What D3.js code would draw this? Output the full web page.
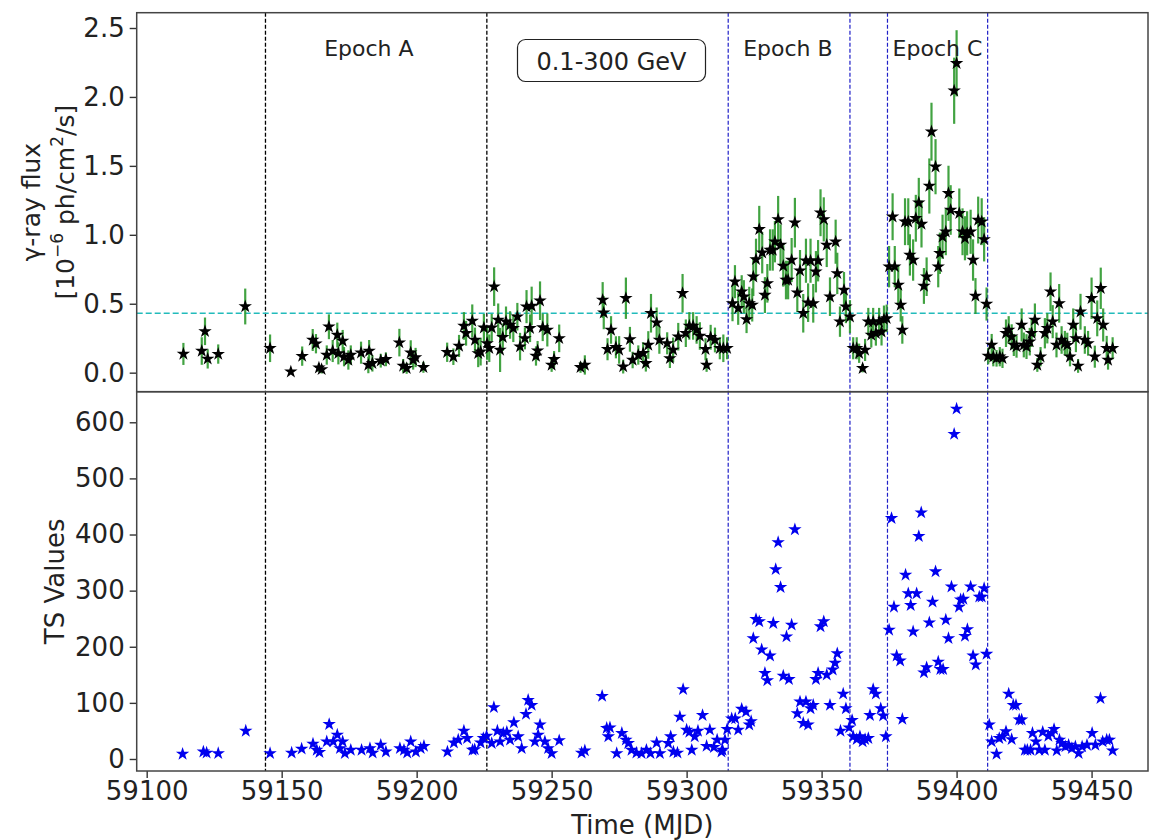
<!DOCTYPE html>
<html>
<head>
<meta charset="utf-8">
<script src="https://cdn.jsdelivr.net/npm/d3@7"></script>
<style>
  body { margin: 0; background: #fff; }
  text { font-family: "DejaVu Sans", sans-serif; fill: #222; }
</style>
</head>
<body>
<div id="chart"></div>
<script>
// flux light curve (top panel)
var fluxMjd = [59113.6, 59120.4, 59121.6, 59122.6, 59126.5, 59136.5,
  59145.7, 59153.4, 59157.6, 59161.5, 59162.7, 59163.8, 59164.8, 59166.7, 59167.5, 59168.9, 59170.6, 59171.0, 59172.6, 59173.1,
  59174.7, 59175.6, 59179.4, 59182.1, 59182.4, 59183.6, 59186.7, 59188.6, 59193.6, 59195.0, 59196.3, 59197.8, 59198.7, 59199.6,
  59202.5, 59211.3, 59213.6, 59215.7, 59217.5, 59218.3, 59220.6, 59221.6, 59222.8, 59223.7, 59224.9,
  59226.1, 59226.9, 59227.8, 59228.7, 59230.2, 59230.9, 59231.9, 59233.1, 59234.6, 59235.8, 59237.3, 59238.3, 59240.1, 59240.7,
  59242.0, 59242.6, 59244.2, 59244.8, 59245.7, 59246.7, 59248.4, 59250.0, 59250.9, 59252.8, 59260.7, 59262.3,
  59268.9, 59269.3, 59270.7, 59272.0, 59273.8, 59275.0, 59276.5, 59277.5, 59279.0, 59280.0, 59282.1, 59283.9, 59284.9, 59285.8,
  59286.8, 59288.9, 59289.9, 59292.8, 59293.8, 59295.0, 59296.9, 59298.5, 59299.7, 59301.0, 59302.4, 59303.7, 59304.9, 59307.0,
  59307.4, 59308.9, 59310.5, 59312.3, 59313.6, 59315.0,
  59317.0, 59317.9, 59319.1, 59320.4, 59321.2, 59322.2, 59323.2, 59324.3, 59324.7, 59325.7, 59326.9, 59328.0, 59329.0, 59329.9,
  59330.9, 59331.9, 59332.7, 59333.9, 59334.8, 59335.8, 59336.8, 59337.6, 59338.9, 59340.1, 59341.0, 59342.0, 59343.2, 59344.2,
  59345.0, 59345.9, 59346.9, 59347.9, 59348.7, 59349.6, 59350.8, 59351.9, 59353.1, 59355.2, 59355.8, 59356.8, 59358.3, 59359.0,
  59360.5, 59361.7, 59363.0, 59363.9, 59365.2, 59366.1, 59367.3, 59368.4, 59369.1, 59370.1, 59371.3, 59372.2, 59373.1, 59374.1,
  59375.0, 59376.3, 59377.1, 59378.4, 59379.3, 59379.9, 59380.9, 59382.1, 59382.7, 59383.9, 59384.9, 59386.0, 59387.0, 59387.9,
  59388.9, 59389.9, 59390.7, 59392.2, 59393.2, 59393.8, 59394.8, 59396.0, 59397.0, 59397.8, 59399.1, 59400.0, 59401.0, 59402.2,
  59403.1, 59403.9, 59405.2, 59406.1, 59407.0, 59408.0, 59409.3, 59410.2, 59411.1,
  59411.7, 59413.0, 59413.6, 59414.8, 59416.0, 59417.0, 59418.3, 59419.3, 59420.4, 59421.2, 59422.2, 59424.1, 59424.9, 59425.9,
  59427.1, 59427.8, 59429.0, 59429.9, 59431.1, 59432.7, 59433.6, 59434.8, 59435.6, 59437.0, 59438.0, 59438.9, 59440.1, 59441.0,
  59442.0, 59443.2, 59444.2, 59445.0, 59445.9, 59447.5, 59448.7, 59450.0, 59451.2, 59452.1, 59453.4, 59454.3, 59455.6, 59456.1,
  59457.8];
var flux = [0.136, 0.157, 0.30, 0.10, 0.135, 0.48,
  0.177, 0.007, 0.12, 0.237, 0.21, 0.036, 0.024, 0.128, 0.333, 0.157, 0.273, 0.14, 0.23, 0.116,
  0.092, 0.128, 0.145, 0.056, 0.157, 0.068, 0.087, 0.097, 0.218, 0.049, 0.032, 0.145, 0.092, 0.11,
  0.039, 0.148, 0.116, 0.194, 0.339, 0.286, 0.375, 0.237, 0.14, 0.152, 0.326,
  0.213, 0.177, 0.326, 0.624, 0.382, 0.165, 0.257, 0.37, 0.346, 0.322, 0.406, 0.189, 0.249, 0.479,
  0.322, 0.484, 0.121, 0.16, 0.522, 0.329, 0.31, 0.056, 0.097, 0.249, 0.039, 0.056,
  0.527, 0.435, 0.17, 0.31, 0.184, 0.165, 0.044, 0.54, 0.242, 0.092, 0.128, 0.141, 0.068, 0.201,
  0.431, 0.363, 0.237, 0.213, 0.104, 0.165, 0.261, 0.576, 0.286, 0.339, 0.339, 0.31, 0.266, 0.17,
  0.056, 0.257, 0.237, 0.177, 0.177, 0.177,
  0.503, 0.66, 0.467, 0.587, 0.551, 0.387, 0.503, 0.491, 0.696, 0.822, 1.04, 0.87, 0.563, 0.648,
  0.89, 0.89, 0.95, 1.112, 0.926, 0.774, 0.672, 0.672, 0.817, 1.088, 0.58, 0.74, 0.431, 0.812,
  0.508, 0.812, 0.503, 0.732, 0.812, 1.16, 1.112, 0.926, 0.551, 0.95, 0.72, 0.37, 0.6, 0.479,
  0.406, 0.177, 0.177, 0.141, 0.032, 0.165, 0.37, 0.273, 0.37, 0.286, 0.37, 0.297, 0.387, 0.394,
  0.769, 1.131, 0.769, 0.636, 0.491, 0.31, 1.095, 1.095, 0.854, 0.817, 1.12, 1.233, 1.078, 0.629,
  0.696, 1.354, 1.748, 1.494, 0.769, 0.866, 0.986, 1.022, 1.301, 1.18, 2.045, 2.244, 1.156, 1.022,
  0.975, 1.011, 1.022, 0.817, 0.556, 1.107, 1.095, 0.967, 0.498,
  0.121, 0.201, 0.116, 0.104, 0.116, 0.104, 0.286, 0.31, 0.261, 0.201, 0.189, 0.346, 0.201, 0.189,
  0.225, 0.286, 0.382, 0.056, 0.116, 0.286, 0.322, 0.587, 0.37, 0.201, 0.503, 0.237, 0.213, 0.2,
  0.116, 0.346, 0.249, 0.049, 0.442, 0.237, 0.213, 0.54, 0.116, 0.394, 0.612, 0.346, 0.177, 0.092,
  0.177];
var fluxErr = [0.08, 0.10, 0.10, 0.07, 0.07, 0.13,
  0.10, 0, 0.07, 0.08, 0.07, 0.03, 0.03, 0.07, 0.09, 0.08, 0.09, 0.08, 0.08, 0.07,
  0.07, 0.07, 0.08, 0.06, 0.08, 0.06, 0.05, 0.05, 0.10, 0.05, 0.04, 0.09, 0.07, 0.07,
  0.04, 0.07, 0.06, 0.08, 0.10, 0.09, 0.12, 0.09, 0.10, 0.10, 0.10,
  0.12, 0.10, 0.10, 0.14, 0.12, 0.16, 0.10, 0.11, 0.10, 0.10, 0.10, 0.10, 0.08, 0.12,
  0.10, 0.14, 0.07, 0.07, 0.14, 0.10, 0.12, 0.05, 0.06, 0.10, 0.04, 0.07,
  0.13, 0.12, 0.08, 0.10, 0.08, 0.10, 0.05, 0.15, 0.09, 0.06, 0.07, 0.08, 0.06, 0.10,
  0.14, 0.11, 0.10, 0.08, 0.07, 0.09, 0.10, 0.14, 0.10, 0.10, 0.10, 0.10, 0.10, 0.08,
  0.05, 0.09, 0.09, 0.08, 0.10, 0.08,
  0.13, 0.12, 0.12, 0.12, 0.12, 0.10, 0.12, 0.12, 0.14, 0.15, 0.17, 0.15, 0.13, 0.14,
  0.15, 0.15, 0.15, 0.17, 0.15, 0.15, 0.14, 0.14, 0.16, 0.18, 0.14, 0.15, 0.14, 0.16,
  0.14, 0.16, 0.14, 0.15, 0.15, 0.17, 0.16, 0.16, 0.14, 0.16, 0.15, 0.11, 0.13, 0.12,
  0.12, 0.08, 0.08, 0.07, 0.03, 0.08, 0.10, 0.09, 0.10, 0.09, 0.10, 0.10, 0.10, 0.10,
  0.15, 0.17, 0.15, 0.14, 0.12, 0.10, 0.17, 0.17, 0.15, 0.15, 0.17, 0.18, 0.17, 0.13,
  0.14, 0.20, 0.21, 0.20, 0.15, 0.15, 0.16, 0.17, 0.20, 0.18, 0.24, 0.24, 0.18, 0.17,
  0.16, 0.16, 0.16, 0.15, 0.13, 0.17, 0.17, 0.16, 0.12,
  0.06, 0.08, 0.07, 0.06, 0.07, 0.07, 0.10, 0.10, 0.09, 0.08, 0.08, 0.12, 0.09, 0.09,
  0.10, 0.10, 0.12, 0.05, 0.07, 0.11, 0.11, 0.14, 0.12, 0.09, 0.14, 0.10, 0.09, 0.09,
  0.07, 0.12, 0.10, 0.05, 0.13, 0.10, 0.09, 0.15, 0.08, 0.13, 0.15, 0.12, 0.09, 0.07,
  0.08];

// TS values (bottom panel)
var tsMjd = [59113.3, 59121.0, 59122.2, 59126.5, 59136.7, 59145.7, 59153.7, 59157.4, 59161.6, 59163.0,
  59164.0, 59166.7, 59167.6, 59169.1, 59170.6, 59171.6, 59172.6, 59173.4, 59175.6, 59179.6,
  59182.7, 59183.7, 59186.7, 59188.6, 59193.8, 59195.3, 59196.5, 59197.8, 59199.7, 59201.5,
  59202.7, 59211.4, 59213.8, 59215.4, 59217.5, 59218.7, 59220.7, 59221.5, 59223.7, 59224.7,
  59225.9, 59227.8, 59228.6, 59229.9, 59230.9, 59232.1, 59233.4, 59234.6, 59236.0, 59237.6,
  59238.9, 59240.5, 59241.3, 59242.6, 59243.8, 59245.0, 59245.7, 59247.5, 59248.7, 59250.0,
  59252.8, 59261.1, 59262.3, 59268.7, 59270.4, 59271.0, 59271.6, 59274.1, 59276.0, 59277.5,
  59278.4, 59279.6, 59281.4, 59283.3, 59285.1, 59286.6, 59288.9, 59290.1, 59293.2, 59294.1,
  59295.1, 59296.6, 59297.5, 59298.7, 59300.0, 59301.0, 59301.9, 59303.0, 59304.2, 59305.9,
  59307.4, 59308.6, 59310.1, 59311.3, 59312.9, 59313.3, 59314.2, 59315.0, 59316.7, 59318.0,
  59319.1, 59320.4, 59322.0, 59323.2, 59323.9, 59324.7, 59325.7, 59326.9, 59327.8, 59329.0,
  59329.9, 59330.9, 59332.1, 59333.0, 59333.9, 59334.8, 59335.8, 59337.0, 59337.9, 59338.9,
  59340.1, 59341.0, 59342.0, 59343.2, 59344.2, 59345.0, 59345.9, 59346.9, 59347.9, 59348.7,
  59349.6, 59350.8, 59351.9, 59353.1, 59354.1, 59355.0, 59355.8, 59357.0, 59358.0, 59359.0,
  59360.2, 59361.3, 59361.7, 59363.0, 59364.2, 59365.2, 59366.1, 59367.3, 59367.9, 59369.1,
  59370.1, 59371.9, 59372.8, 59373.8, 59375.0, 59375.9, 59376.8, 59377.8, 59379.1, 59379.9,
  59381.1, 59382.1, 59383.0, 59383.9, 59385.2, 59386.0, 59386.9, 59387.9, 59388.9, 59389.9,
  59391.1, 59392.2, 59393.2, 59394.0, 59395.0, 59396.0, 59397.0, 59398.1, 59399.1, 59400.0,
  59400.9, 59401.5, 59402.5, 59403.1, 59404.0, 59405.2, 59406.1, 59407.1, 59408.4, 59409.3,
  59410.2, 59411.1, 59412.1, 59413.0, 59414.8, 59415.8, 59417.0, 59418.3, 59419.3, 59420.4,
  59421.0, 59422.0, 59423.2, 59424.1, 59425.3, 59426.2, 59427.4, 59428.1, 59429.4, 59430.6,
  59431.9, 59432.7, 59434.0, 59435.2, 59436.1, 59437.1, 59438.1, 59439.0, 59440.3, 59441.5,
  59442.7, 59444.0, 59445.2, 59446.5, 59448.3, 59450.2, 59451.4, 59453.3, 59454.1, 59455.6,
  59456.6, 59457.8];
var tsValue = [9, 13, 11, 10, 50, 10, 11, 18, 27, 16,
  12, 31, 62, 31, 43, 19, 31, 10, 16, 16,
  19, 11, 25, 13, 19, 16, 11, 31, 13, 19,
  23, 13, 29, 34, 50, 37, 16, 17, 29, 37,
  41, 28, 92, 50, 31, 46, 48, 34, 65, 40,
  19, 80, 105, 96, 31, 43, 61, 31, 19, 10,
  33, 11, 15, 112, 55, 40, 56, 10, 46, 34,
  28, 16, 11, 10, 16, 10, 29, 10, 28, 40,
  13, 11, 75, 124, 52, 48, 16, 40, 50, 78,
  23, 52, 21, 34, 13, 16, 34, 53, 72, 72,
  52, 89, 84, 61, 67, 215, 249, 245, 195, 153,
  140, 184, 242, 338, 386, 306, 148, 218, 142, 239,
  409, 81, 102, 64, 102, 61, 90, 96, 142, 153,
  236, 245, 150, 96, 159, 171, 188, 50, 116, 90,
  56, 69, 40, 35, 40, 31, 35, 37, 78, 124,
  116, 90, 77, 40, 230, 429, 271, 184, 175, 71,
  328, 295, 274, 227, 295, 397, 439, 154, 163, 243,
  280, 334, 173, 160, 160, 248, 215, 307, 579, 624,
  271, 284, 285, 219, 231, 307, 184, 168, 289, 289,
  304, 187, 61, 31, 9, 37, 40, 49, 116, 35,
  96, 96, 70, 70, 16, 16, 16, 46, 31, 16,
  48, 16, 41, 46, 53, 15, 34, 28, 22, 25,
  19, 22, 10, 22, 25, 46, 25, 108, 31, 34,
  34, 15];

// epoch boundaries
var epochLinesA = [59144, 59226];
var epochLinesBC = [59315.4, 59360.5, 59374.4, 59411.5];
var epochLabels = [
  { name: 'Epoch A', mjd: 59182.3 },
  { name: 'Epoch B', mjd: 59337.5 },
  { name: 'Epoch C', mjd: 59392.9 }
];
var meanFlux = 0.431;

var fluxTicks = [0, 0.5, 1.0, 1.5, 2.0, 2.5];
var tsTicks = [0, 100, 200, 300, 400, 500, 600];
var mjdTicks = [59100, 59150, 59200, 59250, 59300, 59350, 59400, 59450];

// layout
var width = 1150, height = 840;
var left = 136.7, right = 1148;
var topY = 12.7, midY = 391.7, bottomY = 771;

var svg = d3.select('#chart').append('svg')
  .attr('width', width)
  .attr('height', height);

var x = d3.scaleLinear().domain([59096.3, 59470.9]).range([left, right]);
var yFlux = d3.scaleLinear().domain([-0.138, 2.611]).range([midY, topY]);
var yTs = d3.scaleLinear().domain([-21.4, 654.5]).range([bottomY, midY]);

var star = d3.symbol().type(d3.symbolStar).size(56);

// vertical epoch lines across both panels
svg.selectAll('.lineA').data(epochLinesA).enter().append('line')
  .attr('x1', d => x(d)).attr('x2', d => x(d))
  .attr('y1', topY).attr('y2', bottomY)
  .attr('stroke', '#000').attr('stroke-width', 1.3)
  .attr('stroke-dasharray', '4,2');
svg.selectAll('.lineBC').data(epochLinesBC).enter().append('line')
  .attr('x1', d => x(d)).attr('x2', d => x(d))
  .attr('y1', topY).attr('y2', bottomY)
  .attr('stroke', '#2020c8').attr('stroke-width', 1.2)
  .attr('stroke-dasharray', '4,2');

// mean flux line
svg.append('line')
  .attr('x1', left).attr('x2', right)
  .attr('y1', yFlux(meanFlux)).attr('y2', yFlux(meanFlux))
  .attr('stroke', '#22bbbb').attr('stroke-width', 1.3)
  .attr('stroke-dasharray', '6,3');

// top panel points
var fluxData = fluxMjd.map((t, i) => ({ t: t, f: flux[i], e: fluxErr[i] }));

svg.append('g').selectAll('line')
  .data(fluxData.filter(d => d.e > 0))
  .enter().append('line')
  .attr('x1', d => x(d.t)).attr('x2', d => x(d.t))
  .attr('y1', d => yFlux(d.f - d.e)).attr('y2', d => yFlux(d.f + d.e))
  .attr('stroke', '#2e9a2e').attr('stroke-width', 2.2)
  .attr('opacity', 0.9);

svg.append('g').selectAll('path')
  .data(fluxData)
  .enter().append('path')
  .attr('d', star)
  .attr('transform', d => `translate(${x(d.t)},${yFlux(d.f)})`)
  .attr('fill', '#000');

// bottom panel points
var tsData = tsMjd.map((t, i) => ({ t: t, v: tsValue[i] }));
svg.append('g').selectAll('path')
  .data(tsData)
  .enter().append('path')
  .attr('d', star)
  .attr('transform', d => `translate(${x(d.t)},${yTs(d.v)})`)
  .attr('fill', '#0000ee');

// axes
var axisFlux = svg.append('g')
  .attr('transform', `translate(${left},0)`)
  .call(d3.axisLeft(yFlux).tickValues(fluxTicks).tickFormat(d3.format('.1f')).tickSize(7).tickPadding(5));
var axisTs = svg.append('g')
  .attr('transform', `translate(${left},0)`)
  .call(d3.axisLeft(yTs).tickValues(tsTicks).tickFormat(d3.format('d')).tickSize(7).tickPadding(5));
var axisX = svg.append('g')
  .attr('transform', `translate(0,${bottomY})`)
  .call(d3.axisBottom(x).tickValues(mjdTicks).tickFormat(d3.format('d')).tickSize(7).tickPadding(4));

[axisFlux, axisTs, axisX].forEach(g => {
  g.select('.domain').remove();
  g.selectAll('.tick line').attr('stroke', '#333').attr('stroke-width', 1.4);
  g.selectAll('.tick text').style('font-size', '26px').style('font-family', 'DejaVu Sans').attr('fill', '#222');
});

// panel frames
[[topY, midY], [midY, bottomY]].forEach(p => {
  svg.append('rect')
    .attr('x', left).attr('y', p[0])
    .attr('width', right - left).attr('height', p[1] - p[0])
    .attr('fill', 'none').attr('stroke', '#444').attr('stroke-width', 1.5);
});

// annotations
svg.selectAll('.epoch').data(epochLabels).enter().append('text')
  .attr('x', d => x(d.mjd)).attr('y', 56)
  .attr('text-anchor', 'middle')
  .style('font-size', '22px')
  .text(d => d.name);

svg.append('rect')
  .attr('x', 517.5).attr('y', 39.5).attr('width', 188).attr('height', 42)
  .attr('rx', 8).attr('fill', '#fff').attr('stroke', '#222').attr('stroke-width', 1.2);
svg.append('text')
  .attr('x', 611.5).attr('y', 69.5)
  .attr('text-anchor', 'middle')
  .style('font-size', '24px')
  .text('0.1-300 GeV');

// axis labels
var fluxLabel = svg.append('text')
  .attr('transform', `translate(40,${(topY + midY) / 2}) rotate(-90)`)
  .attr('text-anchor', 'middle')
  .style('font-size', '25px');
fluxLabel.append('tspan').attr('x', 0).attr('dy', 0).text('γ-ray flux');
fluxLabel.append('tspan').attr('x', 0).attr('dy', 34).text('[10');
fluxLabel.append('tspan').attr('dy', -11).style('font-size', '17px').text('−6');
fluxLabel.append('tspan').attr('dy', 11).text(' ph/cm');
fluxLabel.append('tspan').attr('dy', -11).style('font-size', '17px').text('2');
fluxLabel.append('tspan').attr('dy', 11).text('/s]');

svg.append('text')
  .attr('transform', `translate(64,${(midY + bottomY) / 2}) rotate(-90)`)
  .attr('text-anchor', 'middle')
  .style('font-size', '26px')
  .text('TS Values');

svg.append('text')
  .attr('x', (left + right) / 2).attr('y', 834)
  .attr('text-anchor', 'middle')
  .style('font-size', '26px')
  .text('Time (MJD)');
</script>
</body>
</html>
